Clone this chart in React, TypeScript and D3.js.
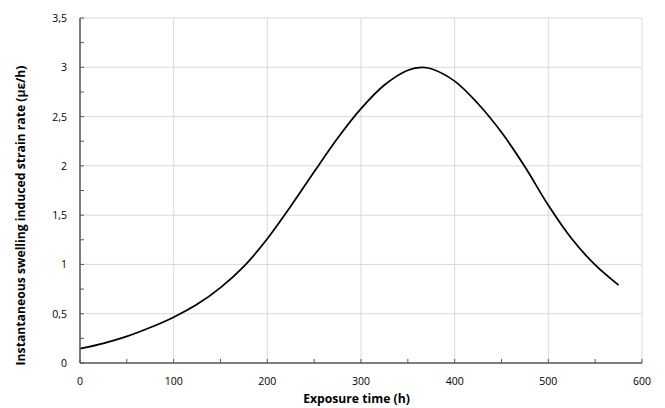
import React from 'react'
import * as d3 from 'd3'

// exposure time (h) and strain rate (µε/h)
const hours = [0, 25, 50, 75, 100, 125, 150, 175, 200, 225, 250, 275, 300, 325, 350, 365, 375, 400, 425, 450, 475, 500, 525, 550, 575]
const rate = [0.145, 0.2, 0.27, 0.36, 0.465, 0.595, 0.765, 0.98, 1.26, 1.59, 1.94, 2.28, 2.58, 2.82, 2.97, 3.0, 2.985, 2.86, 2.63, 2.34, 1.99, 1.6, 1.26, 0.995, 0.79]

const xTicks = [0, 100, 200, 300, 400, 500, 600]
const xMinor = [50, 150, 250, 350, 450, 550]
const yTicks = [0, 0.5, 1, 1.5, 2, 2.5, 3, 3.5]
const yMinor = [0.25, 0.75, 1.25, 1.75, 2.25, 2.75, 3.25]

const W = 665
const H = 408
const left = 80
const right = 642
const top = 18
const bottom = 363

const App = () => {
  const x = d3.scaleLinear().domain([0, 600]).range([left, right])
  const y = d3.scaleLinear().domain([0, 3.5]).range([bottom, top])

  const line = d3.line<number>()
    .x((d, i) => x(hours[i]))
    .y(d => y(d))
    .curve(d3.curveCatmullRom.alpha(0.5))

  const font = 'Open Sans, sans-serif'
  const axisColor = '#595959'

  return (
    <svg width={W} height={H} style={{ position: 'absolute', left: 0, top: 0 }}>
      <rect width={W} height={H} fill="#fff" />
      {xTicks.map(t => (
        <line key={'gx' + t} x1={x(t)} x2={x(t)} y1={top} y2={bottom} stroke="#d9d9d9" strokeWidth={1} />
      ))}
      {yTicks.map(t => (
        <line key={'gy' + t} x1={left} x2={right} y1={y(t)} y2={y(t)} stroke="#d9d9d9" strokeWidth={1} />
      ))}

      <path d={line(rate) || ''} fill="none" stroke="#000" strokeWidth={1.75} />

      <line x1={left} x2={left} y1={top} y2={bottom} stroke={axisColor} strokeWidth={1.5} />
      <line x1={left} x2={right} y1={bottom} y2={bottom} stroke={axisColor} strokeWidth={1.5} />
      {xTicks.concat(xMinor).map(t => (
        <line key={'tx' + t} x1={x(t)} x2={x(t)} y1={bottom} y2={bottom - 4} stroke={axisColor} strokeWidth={1} />
      ))}
      {yTicks.concat(yMinor).map(t => (
        <line key={'ty' + t} x1={left} x2={left + 4} y1={y(t)} y2={y(t)} stroke={axisColor} strokeWidth={1} />
      ))}

      {xTicks.map(t => (
        <text key={'lx' + t} x={x(t)} y={385} textAnchor="middle" fontFamily={font} fontSize={10.5} fill="#000">
          {t}
        </text>
      ))}
      {yTicks.map(t => (
        <text key={'ly' + t} x={67} y={y(t) + 4} textAnchor="end" fontFamily={font} fontSize={10.5} fill="#000">
          {String(t).replace('.', ',')}
        </text>
      ))}

      <text x={356.5} y={403} textAnchor="middle" fontFamily={font} fontSize={12.2} fontWeight="bold" fill="#000">
        Exposure time (h)
      </text>
      <text
        transform={`translate(25, 215.5) rotate(-90)`}
        textAnchor="middle"
        fontFamily={font}
        fontSize={12.2}
        fontWeight="bold"
        fill="#000"
      >
        Instantaneous swelling induced strain rate (με/h)
      </text>
    </svg>
  )
}

export default App
